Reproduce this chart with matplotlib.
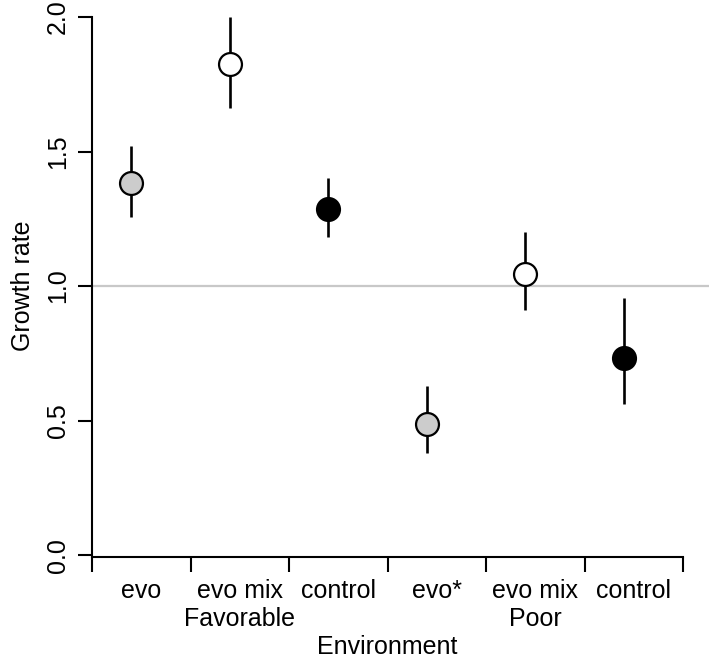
import matplotlib
matplotlib.use("Agg")
import matplotlib.pyplot as plt
import numpy as np

# Data
treatments = ["evo", "evo mix", "control", "evo*", "evo mix", "control"]
environments = ["Favorable", "Poor"]
growth = [1.384, 1.824, 1.286, 0.489, 1.045, 0.731]
err_low = [1.255, 1.663, 1.181, 0.378, 0.911, 0.561]
err_high = [1.52, 2.0, 1.40, 0.629, 1.20, 0.954]
fills = ["#cccccc", "#ffffff", "#000000", "#cccccc", "#ffffff", "#000000"]
y_ticks = [0.0, 0.5, 1.0, 1.5, 2.0]
y_tick_labels = ["0.0", "0.5", "1.0", "1.5", "2.0"]

plt.rcParams['font.family'] = ['Liberation Sans', 'DejaVu Sans']
FS = 18

W, H = 709, 661
fig = plt.figure(figsize=(W / 100, H / 100), dpi=100)
left_px, right_px, top_px, bottom_px = 92, 709, 17, 556.5
ax = fig.add_axes([left_px / W, 1 - bottom_px / H, (right_px - left_px) / W, (bottom_px - top_px) / H])

n = len(treatments)
xs = np.arange(n) + 0.4
unit = (683 - 92) / n
ax.set_xlim(0, (right_px - left_px) / unit)
ybottom = -0.005
ax.set_ylim(ybottom, 2.0)

ax.axhline(1.0, color="#c8c8c8", lw=1.6, zorder=1, clip_on=False)
ax.vlines(xs, err_low, err_high, color="black", lw=1.9, zorder=2)
for x, y, c in zip(xs, growth, fills):
    ax.plot([x], [y], marker="o", ms=16.5, mfc=c, mec="black", mew=1.6, zorder=3, clip_on=False)

for s in ["top", "right"]:
    ax.spines[s].set_visible(False)
ax.spines["left"].set_bounds(0, 2.0)
ax.spines["bottom"].set_bounds(0, n)
ax.spines["left"].set_linewidth(1.5)
ax.spines["bottom"].set_linewidth(1.5)

ax.set_yticks(y_ticks)
ax.set_yticklabels(y_tick_labels, rotation=90, va="center", fontsize=FS)
ax.tick_params(axis="y", length=10, width=1.5, pad=6)

# x ticks at group boundaries, labels at midpoints
ax.set_xticks(np.arange(n + 1))
ax.set_xticklabels([""] * (n + 1))
ax.tick_params(axis="x", length=11, width=1.5)
for i, t in enumerate(treatments):
    ax.annotate(t, xy=(i + 0.5, 0), xycoords=("data", "axes fraction"),
                xytext=(0, -24.5), textcoords="offset points",
                ha="center", va="center", fontsize=FS)
for j, e in enumerate(environments):
    ax.annotate(e, xy=(j * 3 + 1.5, 0), xycoords=("data", "axes fraction"),
                xytext=(0, -45), textcoords="offset points",
                ha="center", va="center", fontsize=FS)
ax.annotate("Environment", xy=(n / 2, 0), xycoords=("data", "axes fraction"),
            xytext=(0, -65.5), textcoords="offset points",
            ha="center", va="center", fontsize=FS)

ax.annotate("Growth rate", xy=(0, 1.0), xycoords=("axes fraction", "data"),
            xytext=(-50, 0), textcoords="offset points",
            ha="center", va="center", rotation=90, fontsize=FS)

fig.savefig("out.png", dpi=100)
